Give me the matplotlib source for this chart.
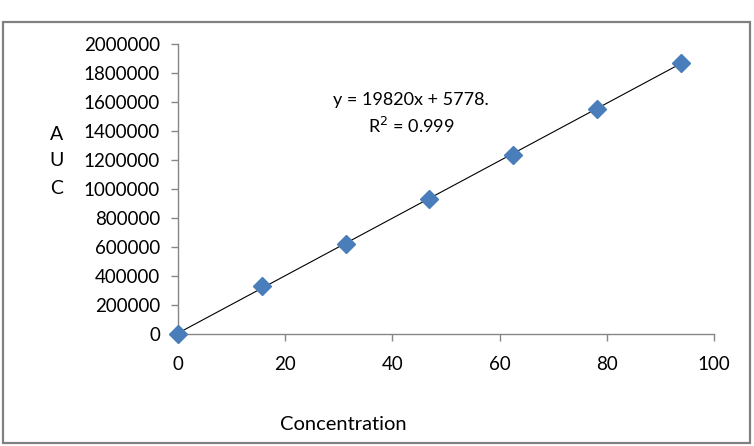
import matplotlib
matplotlib.use("Agg")
import matplotlib.pyplot as plt
from matplotlib.patches import Rectangle
import numpy as np

concentration = [0, 15.625, 31.25, 46.875, 62.5, 78.125, 93.75]
auc = [0, 331000, 620000, 931000, 1233000, 1552000, 1868000]
slope = 19820
intercept = 5778
x_ticks = [0, 20, 40, 60, 80, 100]
y_ticks = [0, 200000, 400000, 600000, 800000, 1000000, 1200000, 1400000, 1600000, 1800000, 2000000]

plt.rcParams['font.family'] = ['Lato', 'DejaVu Sans']

fig = plt.figure(figsize=(7.54, 4.46), dpi=100)
fig.patch.set_facecolor('white')
fig.add_artist(Rectangle((3/754, 3/446), 747/754, 421/446, transform=fig.transFigure,
                         fill=False, edgecolor='#808080', linewidth=1.6))

ax = fig.add_axes([178/754, 1 - 334/446, (714 - 178)/754, (334 - 44)/446])
ax.set_xlim(0, 100)
ax.set_ylim(0, 2000000)
ax.set_xticks(x_ticks)
ax.set_yticks(y_ticks)
ax.set_xticklabels([str(v) for v in x_ticks])
ax.set_yticklabels([str(v) for v in y_ticks])
for s in ['top', 'right']:
    ax.spines[s].set_visible(False)
for s in ['left', 'bottom']:
    ax.spines[s].set_color('#868686')
    ax.spines[s].set_linewidth(1.0)
ax.tick_params(axis='both', colors='#868686', labelcolor='black', labelsize=13.5, length=5, width=1)
ax.tick_params(axis='x', pad=11)
ax.tick_params(axis='y', pad=8)

xs = np.array([concentration[0], concentration[-1]])
ax.plot(xs, slope * xs + intercept, color='black', linewidth=0.8, zorder=2)
ax.plot(concentration, auc, linestyle='none', marker='D', markersize=9,
        color='#4a7ebb', markeredgecolor='#4a7ebb', zorder=3, clip_on=False)

fig.text(411/754, 1 - 100/446, 'y = 19820x + 5778.', ha='center', va='center', fontsize=13)
fig.text(411/754, 1 - 126/446, 'R$^2$ = 0.999', ha='center', va='center', fontsize=13)

for i, ch in enumerate(['A', 'U', 'C']):
    fig.text(57/754, 1 - (134 + i * 27)/446, ch, ha='center', va='center', fontsize=14)
fig.text(343/754, 1 - 424/446, 'Concentration', ha='center', va='center', fontsize=14.5)

fig.savefig('out.png', dpi=100, facecolor='white')
